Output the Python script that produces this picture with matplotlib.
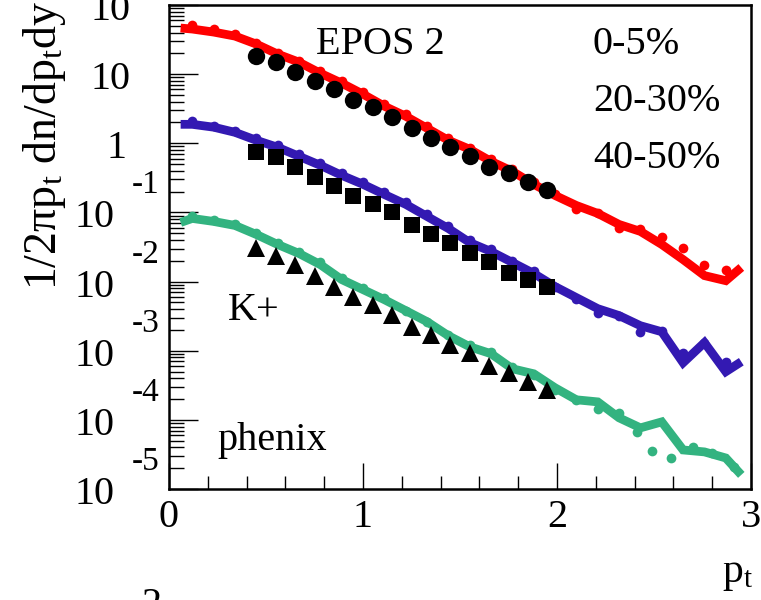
import matplotlib
matplotlib.use("Agg")
import matplotlib.pyplot as plt
from matplotlib.ticker import LogLocator, MultipleLocator, NullFormatter
from matplotlib.transforms import offset_copy

# p_t grid of the EPOS 2 histograms (line vertices) and of the simulation dots
pt_line = [0.06, 0.12, 0.23, 0.34, 0.45, 0.56, 0.67, 0.78, 0.89, 1.00, 1.11, 1.22, 1.33, 1.44,
           1.55, 1.66, 1.77, 1.88, 1.99, 2.10, 2.21, 2.32, 2.43, 2.54, 2.65, 2.76, 2.87, 2.95]
pt_dots = [0.12, 0.23, 0.34, 0.45, 0.56, 0.67, 0.78, 0.89, 1.00, 1.11, 1.22, 1.33, 1.44,
           1.55, 1.66, 1.77, 1.88, 1.99, 2.10, 2.21, 2.32, 2.43, 2.54, 2.65, 2.76, 2.87]
pt_dots_green = [0.12, 0.23, 0.34, 0.45, 0.56, 0.67, 0.78, 0.89, 1.00, 1.11, 1.22, 1.33, 1.44,
                 1.55, 1.66, 1.77, 1.88, 1.99, 2.10, 2.21, 2.32, 2.41, 2.49, 2.59, 2.70, 2.80, 2.91]
# phenix data points
pt_data = [0.45, 0.55, 0.65, 0.75, 0.85, 0.95, 1.05, 1.15, 1.25, 1.35, 1.45, 1.55, 1.65, 1.75, 1.85, 1.95]

# 0-5%
red_line = [46.4, 44.9, 40.6, 35.5, 27.2, 19.5, 14.9, 10.3, 7.41, 5.13, 3.44, 2.46, 1.65, 1.105,
            0.819, 0.548, 0.393, 0.255, 0.176, 0.126, 0.0967, 0.0670, 0.0531, 0.0344, 0.0208,
            0.0122, 0.0103, 0.0160]
red_dots = [51.3, 44.9, 38.0, 28.1, 20.2, 15.4, 11.1, 7.92, 5.48, 3.67, 2.63, 1.76, 1.18, 0.847,
            0.586, 0.420, 0.272, 0.182, 0.111, 0.0967, 0.0586, 0.0567, 0.0434, 0.0311, 0.0176, 0.0149]
data_0_5 = [18.2, 14.9, 10.7, 7.92, 6.06, 4.20, 3.32, 2.38, 1.65, 1.18, 0.875, 0.648, 0.449,
            0.367, 0.272, 0.208]

# 20-30%
blue_line = [1.88, 1.88, 1.71, 1.44, 1.105, 0.875, 0.648, 0.480, 0.344, 0.255, 0.182, 0.131,
             0.0875, 0.0586, 0.0367, 0.0272, 0.0189, 0.0131, 0.00847, 0.00586, 0.00406, 0.00322,
             0.00230, 0.00188, 0.000670, 0.00131, 0.000497, 0.000693]
blue_dots = [2.08, 1.76, 1.49, 1.18, 0.935, 0.693, 0.513, 0.367, 0.272, 0.195, 0.140, 0.0935,
             0.0627, 0.0393, 0.0291, 0.0201, 0.0140, 0.00847, 0.00567, 0.00356, 0.00322, 0.00188,
             0.00195, 0.000935, 0.00131, 0.000693]
data_20_30 = [0.741, 0.627, 0.449, 0.322, 0.238, 0.171, 0.131, 0.100, 0.0648, 0.0480, 0.0367,
              0.0263, 0.0189, 0.0135, 0.0107, 0.00847]

# 40-50%
green_line = [0.0716, 0.0819, 0.0741, 0.0648, 0.0480, 0.0344, 0.0255, 0.0176, 0.0107, 0.00766,
              0.00548, 0.00380, 0.00263, 0.00165, 0.00114, 0.000905, 0.000548, 0.000464,
              0.000291, 0.000195, 0.000182, 0.000107, 7.66e-5, 9.35e-5, 3.67e-5, 3.44e-5,
              2.81e-5, 1.60e-5]
green_dots = [0.0875, 0.0766, 0.0670, 0.0496, 0.0367, 0.0272, 0.0189, 0.0114, 0.00819, 0.00586,
              0.00380, 0.00263, 0.00171, 0.00122, 0.000967, 0.000586, 0.000449, 0.000272,
              0.000195, 0.000144, 0.000126, 6.70e-5, 3.56e-5, 2.81e-5, 4.06e-5, 3.32e-5, 2.08e-5]
data_40_50 = [0.0311, 0.0238, 0.0176, 0.0122, 0.00847, 0.00606, 0.00464, 0.00333, 0.00223,
              0.00171, 0.00122, 0.000935, 0.000606, 0.000480, 0.000356, 0.000272]

RED = "#ff0000"
BLUE = "#3319b2"
GREEN = "#33b380"

plt.rcParams["font.family"] = "Liberation Serif"
plt.rcParams["mathtext.fontset"] = "custom"
plt.rcParams["mathtext.rm"] = "Liberation Serif"
plt.rcParams["mathtext.it"] = "Liberation Serif:italic"

W, H = 761, 600
fig = plt.figure(figsize=(W / 100, H / 100), dpi=100)
ax = fig.add_axes([169 / W, 1 - 489 / H, 582 / W, 484 / H])

# --- EPOS 2 curves + simulation dots ---
for ys, ds, pd, c in [(red_line, red_dots, pt_dots, RED),
                      (blue_line, blue_dots, pt_dots, BLUE),
                      (green_line, green_dots, pt_dots_green, GREEN)]:
    ax.plot(pt_line, ys, color=c, lw=6.3, solid_capstyle="butt", solid_joinstyle="miter", zorder=2)
    ax.plot(pd, ds, "o", color=c, ms=7, mew=0, zorder=3)

# --- phenix data ---
ax.plot(pt_data, data_0_5, "o", color="k", ms=12.5, mew=0, zorder=4)
ax.plot(pt_data, data_20_30, "s", color="k", ms=11.5, mew=0, zorder=4)
ax.plot(pt_data, data_40_50, "^", color="k", ms=13, mew=0, zorder=4)

ax.set_yscale("log")
ax.set_xlim(0, 3)
ax.set_ylim(1e-5, 1e2)

ax.xaxis.set_major_locator(MultipleLocator(1))
ax.xaxis.set_minor_locator(MultipleLocator(0.2))
ax.yaxis.set_major_locator(LogLocator(base=10, numticks=20))
ax.yaxis.set_minor_locator(LogLocator(base=10, subs=range(2, 10), numticks=20))
ax.yaxis.set_major_formatter(NullFormatter())
ax.yaxis.set_minor_formatter(NullFormatter())

ax.tick_params(axis="x", which="major", direction="in", length=19, width=1.0, labelsize=29, pad=7)
ax.tick_params(axis="x", which="minor", direction="in", length=9.5, width=1.0)
ax.tick_params(axis="y", which="major", direction="in", length=21, width=1.0)
ax.tick_params(axis="y", which="minor", direction="in", length=11, width=1.0)
ax.tick_params(which="both", top=False, right=False)
for s in ax.spines.values():
    s.set_linewidth(1.8)

# ROOT-style log labels: "10" with the exponent written above-left
ytrans = ax.get_yaxis_transform()
base_tr = offset_copy(ytrans, fig=fig, y=-15, units="dots")
exp_tr = offset_copy(ytrans, fig=fig, y=19, units="dots")
for e in [2, 1, 0, -1, -2, -3, -4, -5]:
    v = 10.0 ** e
    if e > 0:
        ax.text((130 - 169) / 582, v, "10", transform=base_tr, ha="right", va="baseline", fontsize=29)
    elif e == 0:
        ax.text((126 - 169) / 582, v, "1", transform=base_tr, ha="right", va="baseline", fontsize=29)
    else:
        ax.text((115 - 169) / 582, v, "10", transform=base_tr, ha="right", va="baseline", fontsize=29)
        ax.text((132 - 169) / 582, v, "-%d" % (-e), transform=exp_tr, ha="left", va="baseline", fontsize=24)

# titles
fig.text(0.058, 0.998, "1/2πp$_{\\rm t}$ dn/dp$_{\\rm t}$dy", rotation=90, ha="center", va="top", fontsize=33)
fig.text(722 / W, 1 - 582 / H, "p$_{\\rm t}$", ha="left", va="baseline", fontsize=30)
fig.text(141 / W, 1 - 615 / H, "2", ha="left", va="baseline", fontsize=29)

# annotations
fig.text(316 / W, 1 - 54 / H, "EPOS 2", ha="left", va="baseline", fontsize=29)
fig.text(593 / W, 1 - 54 / H, "0-5%", ha="left", va="baseline", fontsize=29)
fig.text(593 / W, 1 - 111 / H, "20-30%", ha="left", va="baseline", fontsize=29)
fig.text(593 / W, 1 - 168 / H, "40-50%", ha="left", va="baseline", fontsize=29)
fig.text(228 / W, 1 - 320 / H, "K+", ha="left", va="baseline", fontsize=29)
fig.text(217 / W, 1 - 450 / H, "phenix", ha="left", va="baseline", fontsize=29)

fig.savefig("out.png", dpi=100)
